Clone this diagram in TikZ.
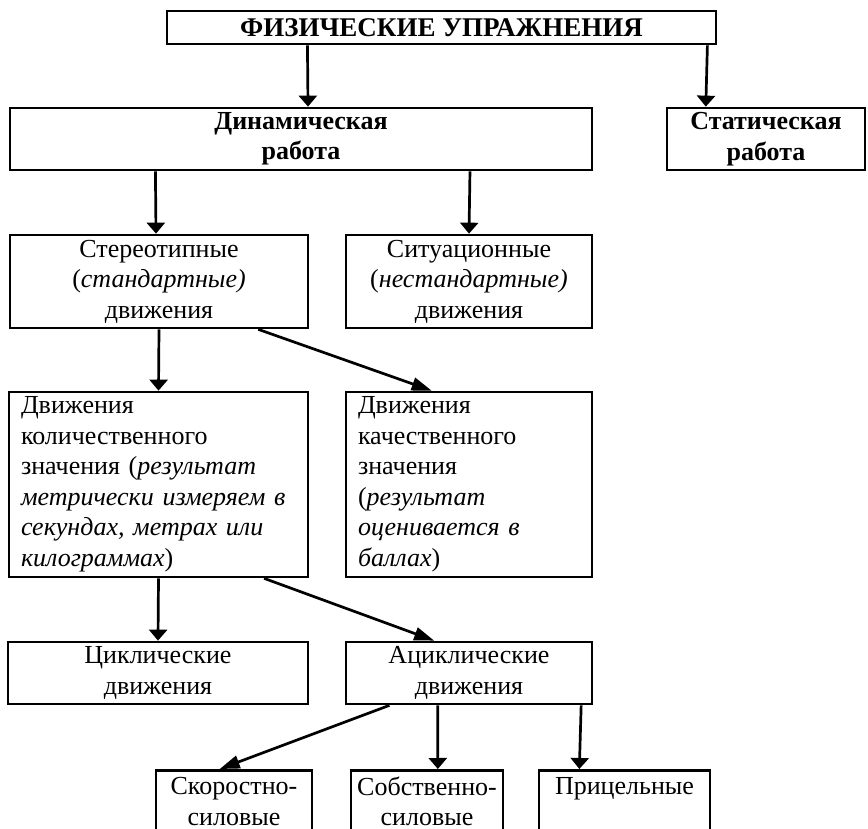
\documentclass[tikz,border=0pt]{standalone}
\usepackage{fontspec}
\setmainfont{Liberation Serif}
\usetikzlibrary{arrows.meta,calc}

\begin{document}
\begin{tikzpicture}[x=1pt,y=-1pt,
        every node/.style = {shape=rectangle, draw, line width=2.7pt,
            align=center, inner sep=0pt,
            font=\fontsize{26}{30.5}\selectfont},
        arr/.style = {line width=2.7pt, -{Triangle[length=11pt,width=18pt]}},
        slant/.style = {line width=2.7pt, -{Triangle[length=20pt,width=13pt]}},
        textbox/.style = {align=left, text width=#1}]
        \clip (0,0) rectangle (868,829);
        % levels
        \node[minimum width=549pt, minimum height=33pt, font=\fontsize{27}{30}\selectfont\bfseries]
            (top) at (441.5,27.5) {ФИЗИЧЕСКИЕ УПРАЖНЕНИЯ};
        \node[minimum width=582pt, minimum height=62pt] (dyn) at (301,139)
            {\textbf{Динамическая}\\\textbf{работа}};
        \node[minimum width=198pt, minimum height=62pt] (stat) at (766,139)
            {\textbf{Статическая}\\\textbf{работа}};
        \node[minimum width=298pt, minimum height=93pt] (stereo) at (159,281.5)
            {Стереотипные\\(\textit{стандартные)}\\движения};
        \node[minimum width=246pt, minimum height=93pt] (situ) at (469,281.5)
            {Ситуационные\\(\textit{нестандартные)}\\движения};
        \node[textbox=275pt, minimum width=299pt, minimum height=185pt] (quant) at (158.5,484.5)
            {Движения\\количественного\\значения (\textit{результат}\\\textit{метрически измеряем в}\\\textit{секундах, метрах или}\\\textit{килограммах})};
        \node[textbox=222pt, minimum width=246pt, minimum height=185pt] (qual) at (469,484.5)
            {Движения\\качественного\\значения\\(\textit{результат}\\\textit{оценивается в}\\\textit{баллах})};
        \node[minimum width=300pt, minimum height=62pt] (cyc) at (158,673)
            {Циклические\\движения};
        \node[minimum width=246pt, minimum height=62pt] (acyc) at (469,673)
            {Ациклические\\движения};
        \node[anchor=north, minimum width=156pt, minimum height=62pt] (skor) at (234,769)
            {Скоростно-\\силовые};
        \node[anchor=north, minimum width=152pt, minimum height=62pt] (sobst) at (427,769)
            {Собственно-\\силовые};
        \node[anchor=north, minimum width=171pt, minimum height=62pt] (pric) at (624.5,769)
            {Прицельные\\~};
        % arrows
        \draw[arr] ($(top.south west)!.257!(top.south east)$) -- ($(dyn.north west)!.512!(dyn.north east)$);
        \draw[arr] ($(top.south west)!.982!(top.south east)$) -- ($(stat.north west)!.2!(stat.north east)$);
        \draw[arr] ($(dyn.south west)!.251!(dyn.south east)$) -- ($(stereo.north west)!.49!(stereo.north east)$);
        \draw[arr] ($(dyn.south west)!.789!(dyn.south east)$) -- (situ.north);
        \draw[arr] (stereo.south) -- (quant.north);
        \draw[slant] ($(stereo.south west)!.83!(stereo.south east)$) -- ($(qual.north west)!.35!(qual.north east)$);
        \draw[arr] (quant.south) -- (cyc.north);
        \draw[slant] ($(quant.south west)!.85!(quant.south east)$) -- ($(acyc.north west)!.36!(acyc.north east)$);
        \draw[slant] ($(acyc.south west)!.18!(acyc.south east)$) -- ($(skor.north west)!.41!(skor.north east)$);
        \draw[arr] ($(acyc.south west)!.374!(acyc.south east)$) -- ($(sobst.north west)!.57!(sobst.north east)$);
        \draw[arr] ($(acyc.south west)!.951!(acyc.south east)$) -- ($(pric.north west)!.24!(pric.north east)$);
    \end{tikzpicture}
\end{document}
